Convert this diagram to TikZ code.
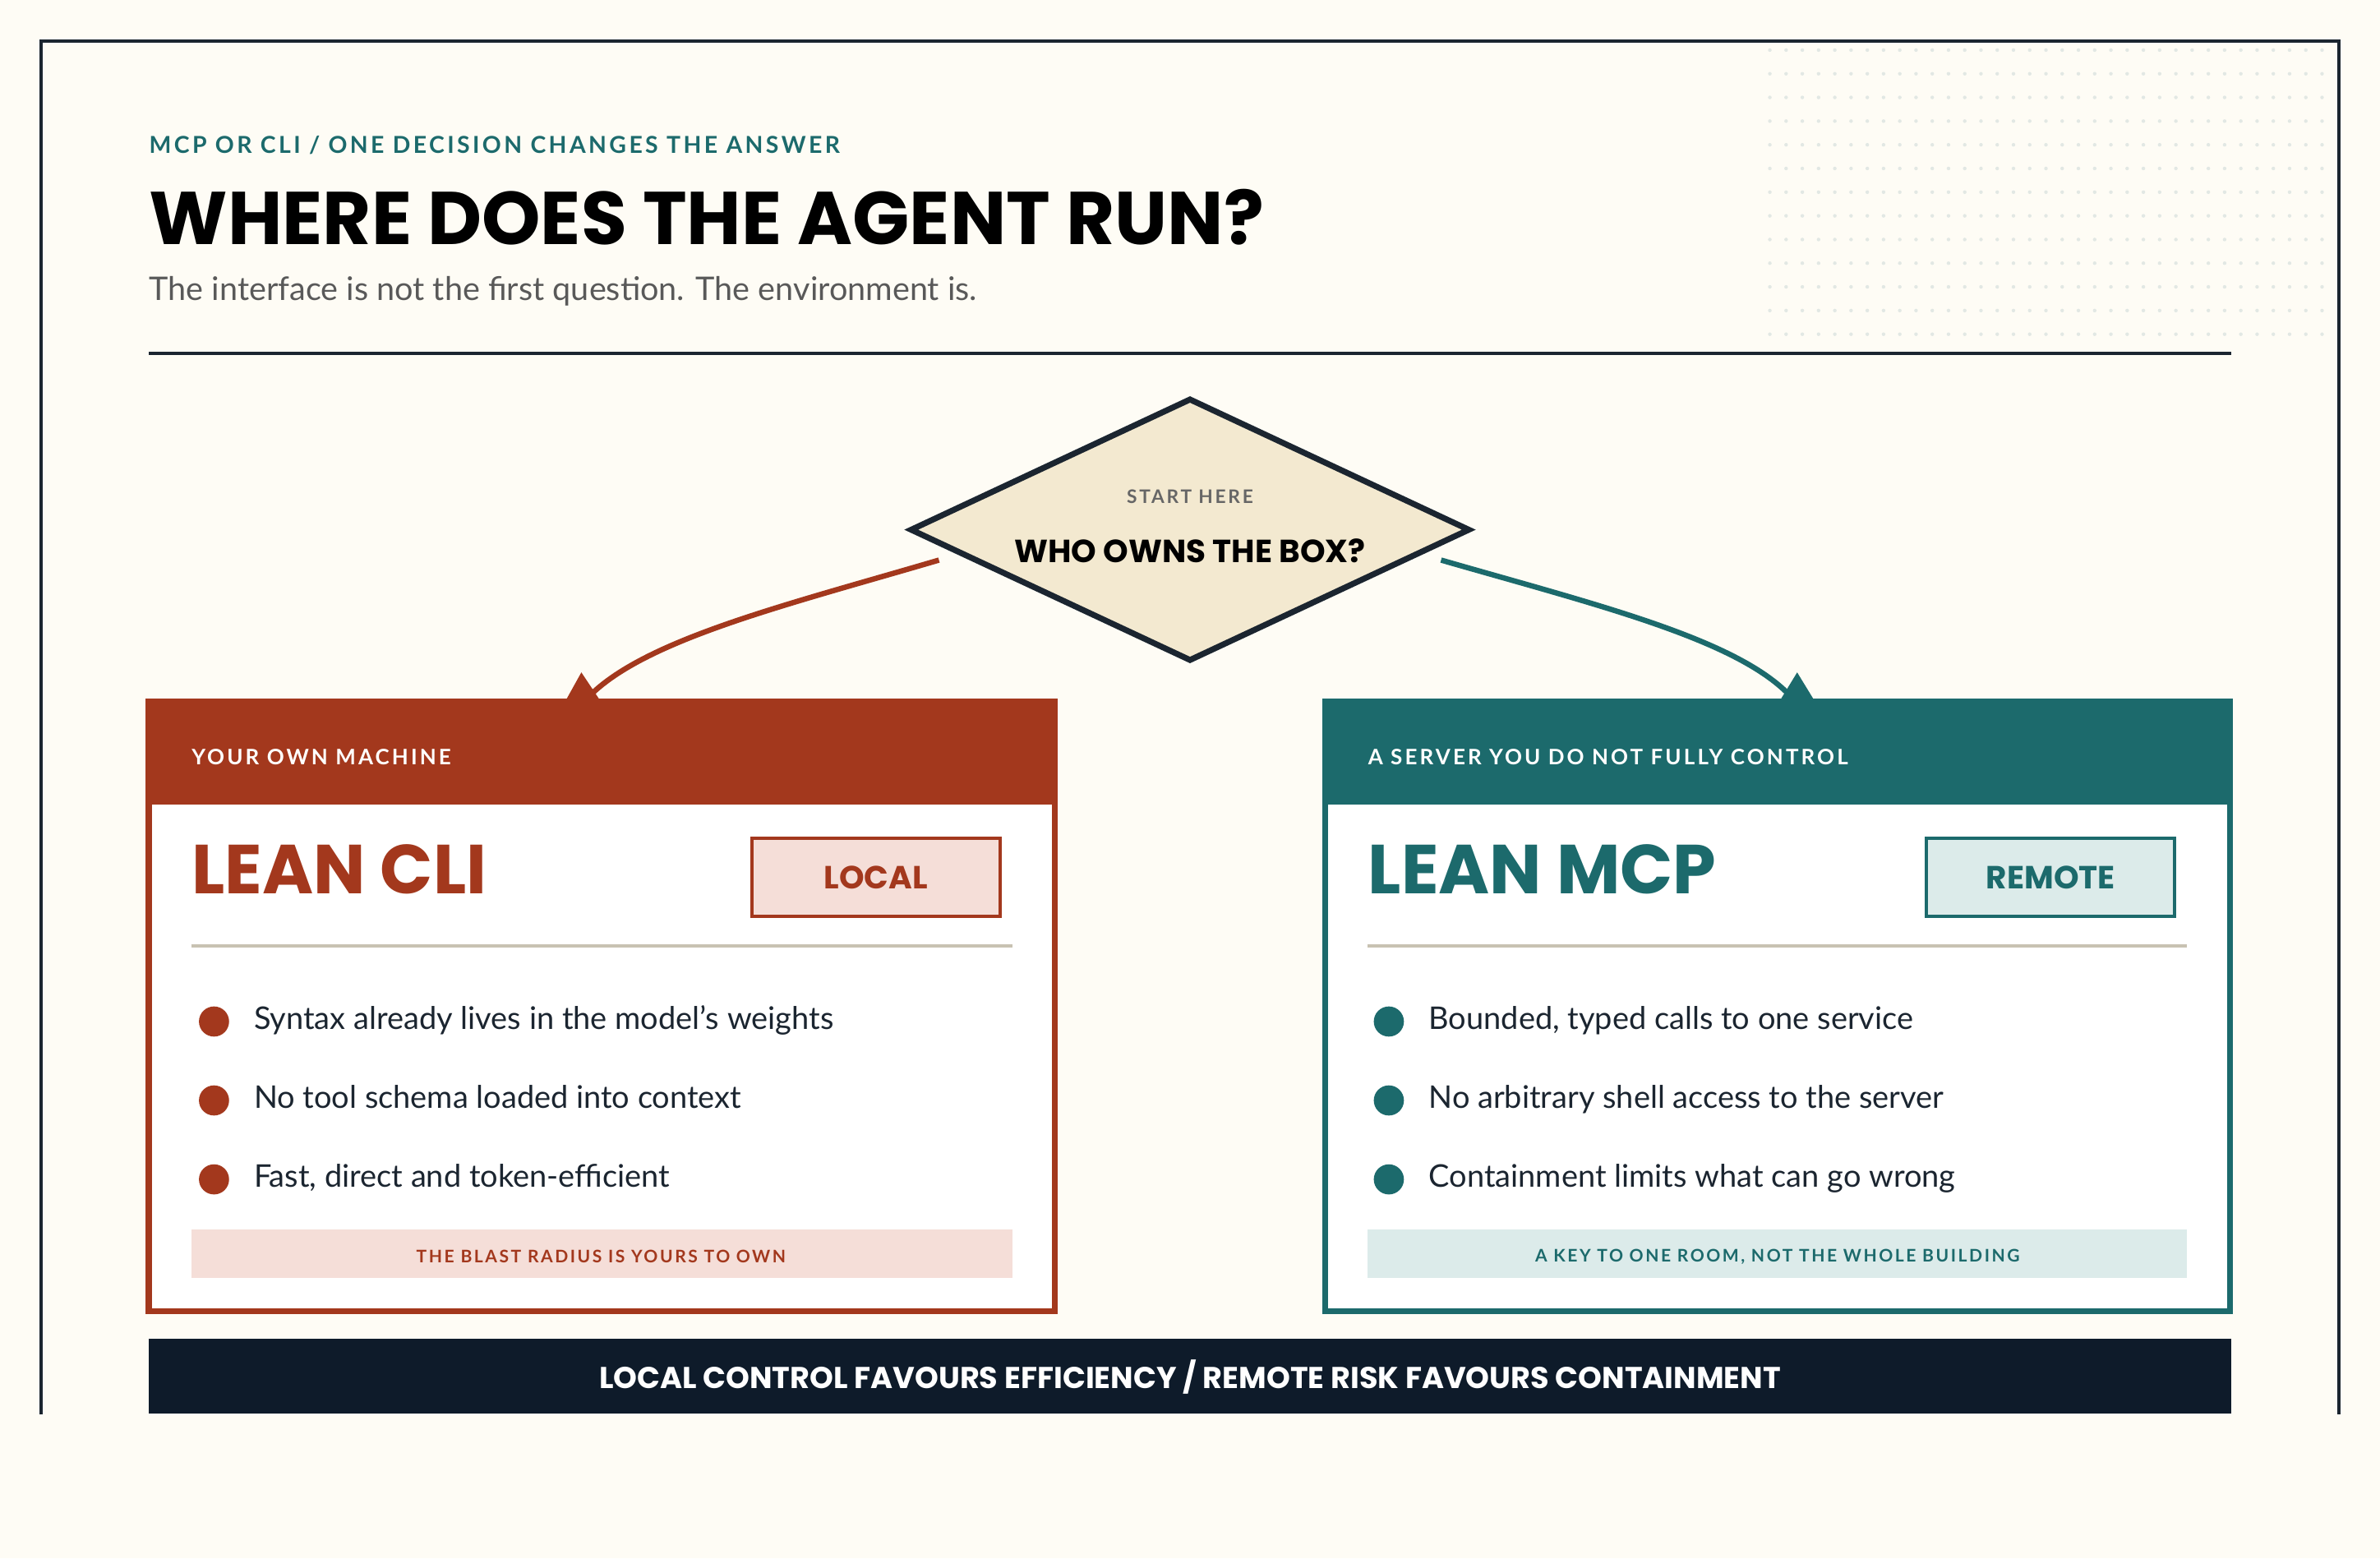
\documentclass[tikz,border=0pt]{standalone}
\usepackage{fontspec}
\setmainfont{Lato}
\newfontfamily\heavy{Poppins}[BoldFont=* Bold]
\newfontfamily\spacedbold{Lato}[LetterSpace=12]
\usetikzlibrary{positioning,shapes.geometric}
\definecolor{paper}{HTML}{FEFCF5}
\definecolor{ink}{HTML}{1B2530}
\definecolor{rust}{HTML}{A3381D}
\definecolor{rustlight}{HTML}{F5DED8}
\definecolor{teal}{HTML}{1C6A6C}
\definecolor{teallight}{HTML}{DCEBEA}
\definecolor{navy}{HTML}{0E1B2A}
\definecolor{sand}{HTML}{F3E9D0}
\definecolor{rulegray}{HTML}{C8C2B2}
\definecolor{dotgray}{HTML}{E2E8E4}
\tikzset{
  bigword/.style={font=\heavy\bfseries\fontsize{26}{26}\selectfont, anchor=base west, inner sep=0pt},
  item/.style={font=\fontsize{11.7}{13}\selectfont, anchor=base west, text=ink, inner sep=0pt},
  dot/.style={circle, inner sep=0pt, minimum size=11.3pt},
  tag/.style={draw, line width=1.2pt, minimum width=93pt, minimum height=29.5pt,
    font=\heavy\bfseries\fontsize{12}{12}\selectfont},
}
\begin{document}
\begin{tikzpicture}[x=0.02cm, y=-0.02cm]
\useasboundingbox (0,0) rectangle (1568,1026.6);
\fill[paper] (0,0) rectangle (1568,1026.6);
% dotted corner
\foreach \i in {0,...,34} \foreach \j in {0,...,12}
  \fill[dotgray] (1166+\i*10.7,33+\j*15.6) circle (1.2);
\draw[ink, line width=1.2pt] (27,932) -- (27,27) -- (1541,27) -- (1541,932);
% heading
\node[anchor=base west, inner sep=0pt, text=teal, font=\spacedbold\bfseries\fontsize{8.75}{9}\selectfont] (kicker) at (98,101) {MCP OR CLI / ONE DECISION CHANGES THE ANSWER};
\node[anchor=base west, inner sep=0pt, text=black, font=\heavy\bfseries\fontsize{28}{28}\selectfont] (title) at (98,161) {WHERE DOES THE AGENT RUN?};
\node[anchor=base west, inner sep=0pt, text=black!65, font=\fontsize{12.2}{13}\selectfont] (sub) at (98,198) {The interface is not the first question. The environment is.};
\draw[ink, line width=1.2pt] (98,233) -- (1470,233);
% decision
\node[diamond, draw=ink, fill=sand, line width=2.2pt, minimum width=210pt, minimum height=98.6pt, inner sep=0pt] (box) at (784,349) {};
\node[text=black!60, font=\spacedbold\bfseries\fontsize{7}{7}\selectfont] (start) at (784,327) {START HERE};
\node[font=\heavy\bfseries\fontsize{12}{12}\selectfont] (q) at (784,363) {WHO OWNS THE BOX?};
% left card
\fill[white] (96,460) rectangle (697,866);
\fill[rust] (96,460) rectangle (697,530);
\draw[rust, line width=2.2pt] (98,530) -- (98,864) -- (695,864) -- (695,530);
\node[anchor=base west, inner sep=0pt, text=white, font=\spacedbold\bfseries\fontsize{8}{8}\selectfont] (lhead) at (126,504) {YOUR OWN MACHINE};
\node[bigword, text=rust] (cli) at (126,589) {LEAN CLI};
\node[tag, draw=rust, fill=rustlight, text=rust] (local) at (577,578) {LOCAL};
\draw[rulegray, line width=1.2pt] (126,623) -- (667,623);
\foreach \y/\t [count=\k] in {673/Syntax already lives in the model’s weights,
    725/No tool schema loaded into context, 777/{Fast, direct and token-efficient}}{
  \node[dot, fill=rust] (lb\k) at (141,\y) {};
  \node[item] (lt\k) at (167,\y+5) {\t};
}
\fill[rustlight] (126,810) rectangle (667,842);
\node[text=rust, font=\spacedbold\bfseries\fontsize{6.5}{6.5}\selectfont] (lfoot) at (396,828) {THE BLAST RADIUS IS YOURS TO OWN};
% right card
\fill[white] (871,460) rectangle (1471,866);
\fill[teal] (871,460) rectangle (1471,530);
\draw[teal, line width=2.2pt] (873,530) -- (873,864) -- (1469,864) -- (1469,530);
\node[anchor=base west, inner sep=0pt, text=white, font=\spacedbold\bfseries\fontsize{8}{8}\selectfont] (rhead) at (901,504) {A SERVER YOU DO NOT FULLY CONTROL};
\node[bigword, text=teal] (mcp) at (901,589) {LEAN MCP};
\node[tag, draw=teal, fill=teallight, text=teal] (remote) at (1351,578) {REMOTE};
\draw[rulegray, line width=1.2pt] (901,623) -- (1441,623);
\foreach \y/\t [count=\k] in {673/{Bounded, typed calls to one service},
    725/No arbitrary shell access to the server, 777/Containment limits what can go wrong}{
  \node[dot, fill=teal] (rb\k) at (915,\y) {};
  \node[item] (rt\k) at (941,\y+5) {\t};
}
\fill[teallight] (901,810) rectangle (1441,842);
\node[text=teal, font=\spacedbold\bfseries\fontsize{6.5}{6.5}\selectfont] (rfoot) at (1171,828) {A KEY TO ONE ROOM, NOT THE WHOLE BUILDING};
% branches
\coordinate (lend) at (391,456);
\coordinate (rend) at (1177,456);
\draw[rust, line width=2pt] (box.west) ++(21,20) .. controls (520,398) and (430,420) .. (lend);
\fill[rust] (383,443) -- (373,461) -- (395,461) -- cycle;
\draw[teal, line width=2pt] (box.east) ++(-21,20) .. controls (1050,398) and (1140,420) .. (rend);
\fill[teal] (1184,443) -- (1173,461) -- (1195,461) -- cycle;
% verdict
\fill[navy] (98,882) rectangle (1470,931);
\node[text=white, font=\heavy\bfseries\fontsize{11.3}{11.3}\selectfont] (verdict) at (784,907) {LOCAL CONTROL FAVOURS EFFICIENCY / REMOTE RISK FAVOURS CONTAINMENT};
\end{tikzpicture}
\end{document}
